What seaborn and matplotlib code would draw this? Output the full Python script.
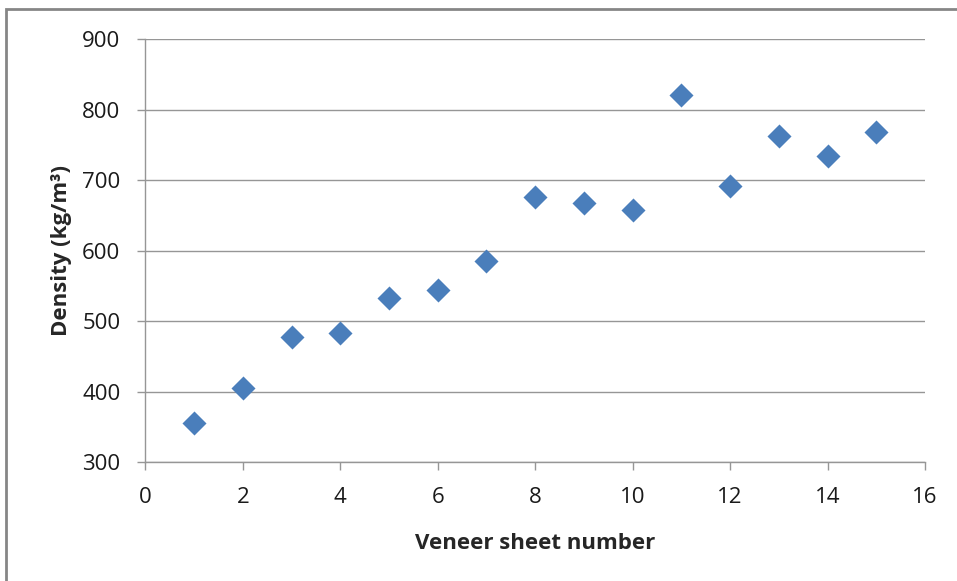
import matplotlib
matplotlib.use("Agg")
import matplotlib.pyplot as plt
import seaborn as sns
import pandas as pd

sheet = [1, 2, 3, 4, 5, 6, 7, 8, 9, 10, 11, 12, 13, 14, 15]
density = [355, 405, 477, 483, 533, 544, 585, 676, 667, 657, 820, 692, 762, 734, 768]
xticks = [0, 2, 4, 6, 8, 10, 12, 14, 16]
yticks = [300, 400, 500, 600, 700, 800, 900]

sns.set_style("white")
plt.rcParams['font.family'] = ['Open Sans', 'DejaVu Sans']

df = pd.DataFrame({"sheet": sheet, "density": density})

fig = plt.figure(figsize=(9.57, 5.81), dpi=100)
ax = fig.add_axes([0.152, 0.2048, 0.8145, 0.728])
grid_c = "#969696"
for y in yticks:
    ax.axhline(y, color=grid_c, lw=1.0, zorder=0)
sns.scatterplot(data=df, x="sheet", y="density", marker="D", s=150,
                color="#4A7EBB", edgecolor="#4A7EBB", linewidth=0, ax=ax, zorder=3)
ax.set_xlim(0, 16)
ax.set_ylim(300, 900)
ax.set_xticks(xticks)
ax.set_yticks(yticks)
for s in ["top", "right"]:
    ax.spines[s].set_visible(False)
for s in ["left", "bottom"]:
    ax.spines[s].set_color(grid_c)
    ax.spines[s].set_linewidth(1.0)
ax.tick_params(axis="both", direction="out", length=6, width=1, color=grid_c,
               labelsize=16, labelcolor="#1a1a1a", left=True, bottom=True)
ax.tick_params(axis="y", pad=12)
ax.tick_params(axis="x", pad=12)
ax.set_xlabel("Veneer sheet number", fontsize=16, fontweight="bold", labelpad=18)
ax.set_ylabel("Density (kg/m³)", fontsize=16, fontweight="bold", labelpad=7)

border = plt.Rectangle((0.006, -0.01), 1.2, 0.995, transform=fig.transFigure,
                       fill=False, edgecolor="#868686", lw=2)
fig.patches.append(border)

fig.savefig("out.png", dpi=100)
